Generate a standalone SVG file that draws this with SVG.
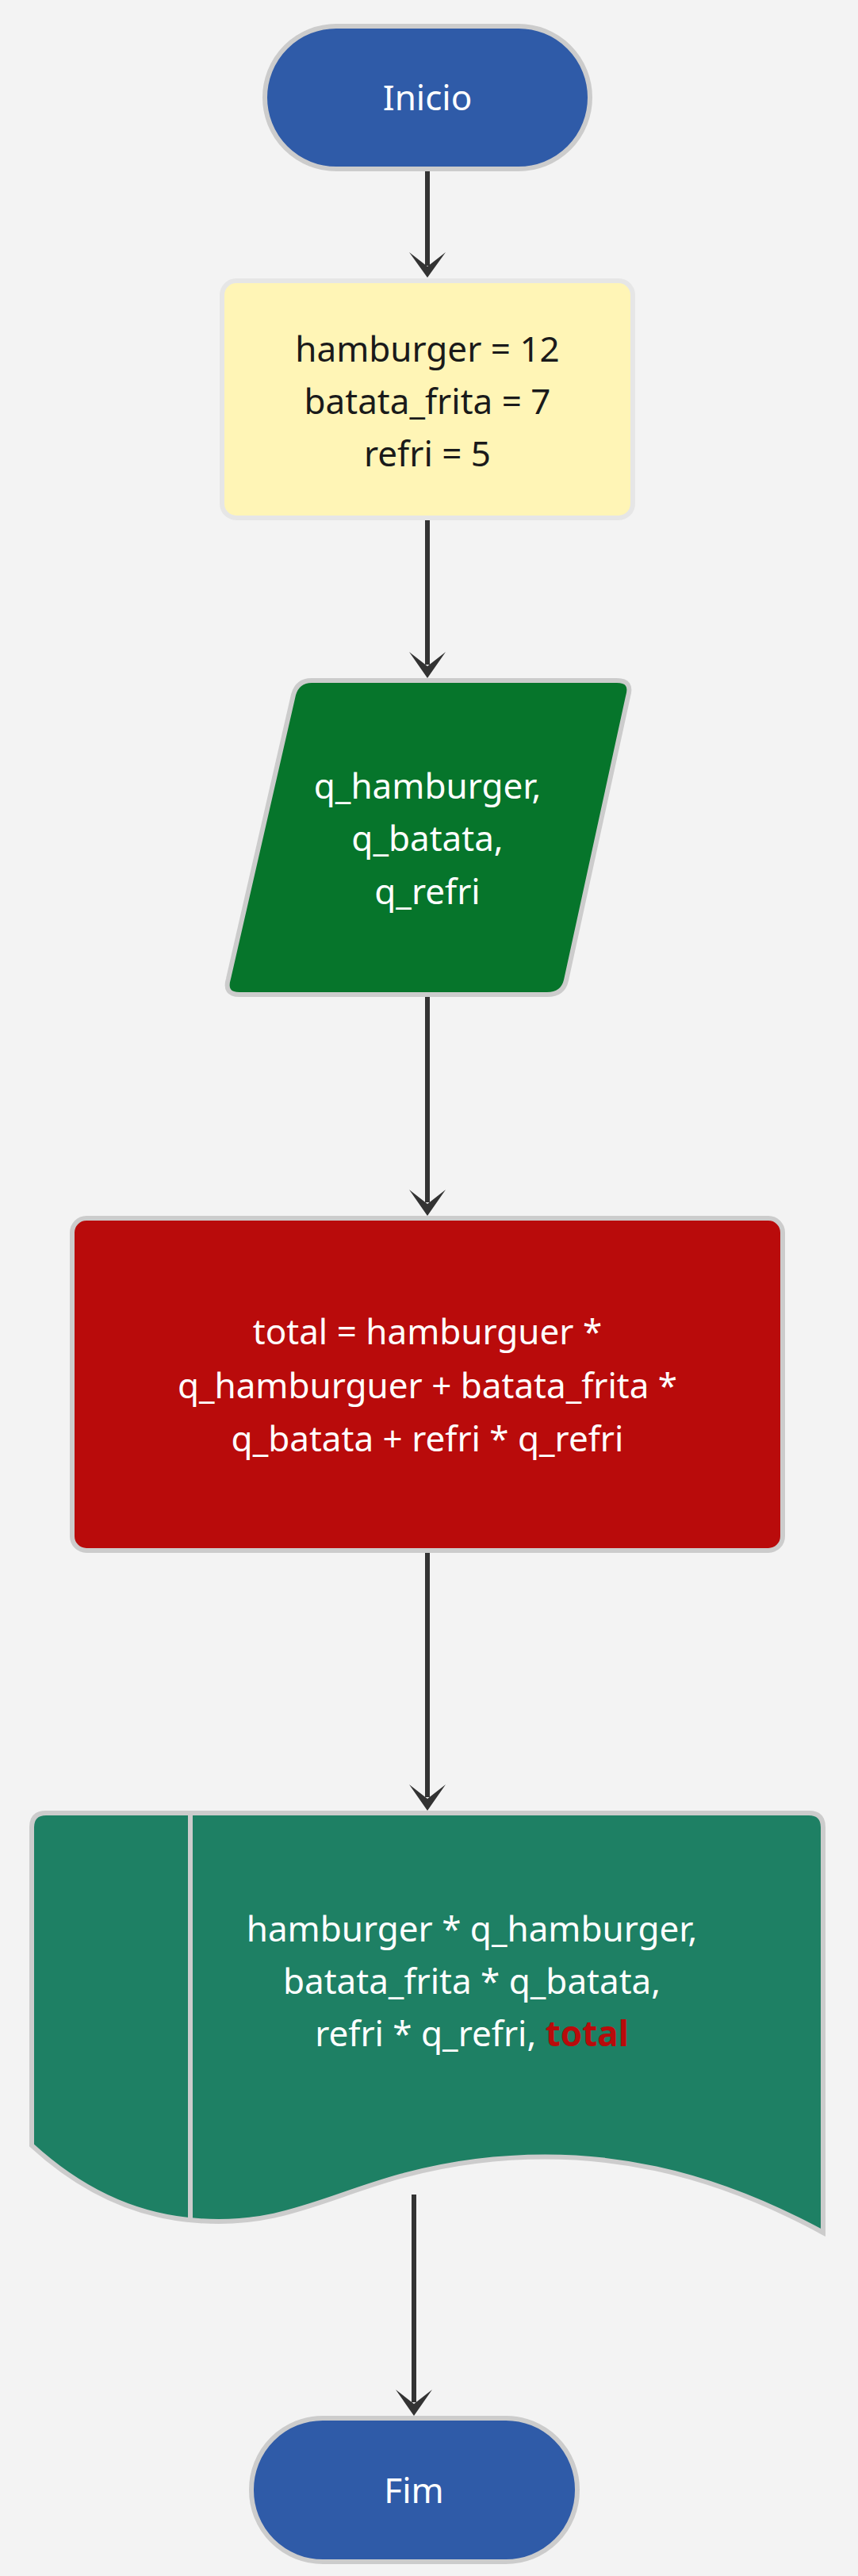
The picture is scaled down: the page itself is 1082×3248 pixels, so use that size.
<svg xmlns="http://www.w3.org/2000/svg" width="1082" height="3248" viewBox="0 0 1082 3248">
<defs>
<marker id="ah" viewBox="0 0 10 10" refX="5" refY="8" markerWidth="10" markerHeight="10" markerUnits="userSpaceOnUse" orient="auto" overflow="visible">
<path d="M-20,-12 L5,8 L30,-12 L5,30 Z" fill="#333"/>
</marker>
<style>
.n{stroke:#cccccc;stroke-width:6}
.t{font-family:"Noto Sans","Open Sans",sans-serif;font-size:44px;text-anchor:middle;fill:#fff}
.c{stroke:#333;stroke-width:6;fill:none}
</style>
</defs>
<rect width="1082" height="3248" fill="#f3f3f3"/>
<g id="connectors">
<line class="c" x1="539" y1="213" x2="539" y2="335"/>
<path d="M516,318 L539,350 L562,318 L539,336 Z" fill="#333"/>
<line class="c" x1="539" y1="653" x2="539" y2="838"/>
<path d="M516,822 L539,855 L562,822 L539,840 Z" fill="#333"/>
<line class="c" x1="539" y1="1254" x2="539" y2="1516"/>
<path d="M516,1500 L539,1533 L562,1500 L539,1518 Z" fill="#333"/>
<line class="c" x1="539" y1="1955" x2="539" y2="2266"/>
<path d="M516,2250 L539,2283 L562,2250 L539,2268 Z" fill="#333"/>
<line class="c" x1="522" y1="2767" x2="522" y2="3029"/>
<path d="M499,3013 L522,3046 L545,3013 L522,3031 Z" fill="#333"/>
</g>
<g id="inicio">
<rect class="n" x="334" y="33" width="410" height="180" rx="90" fill="#2f5ba8"/>
<text class="t" x="539" y="139">Inicio</text>
</g>
<g id="vars">
<rect x="280" y="354" width="518" height="299" rx="18" fill="#fff5b6" stroke="#e6e6e6" stroke-width="6"/>
<text class="t" x="539" y="456" style="fill:#1a1a1a">hamburger = 12</text>
<text class="t" x="539" y="522" style="fill:#1a1a1a">batata_frita = 7</text>
<text class="t" x="539" y="588" style="fill:#1a1a1a">refri = 5</text>
</g>
<g id="input">
<path class="n" d="M393,858 L778,858 Q798,858 792,878 L714,1236 Q710,1254 690,1254 L302,1254 Q282,1254 288,1234 L370,876 Q375,858 393,858 Z" fill="#06752b"/>
<text class="t" x="539" y="1007">q_hamburger,</text>
<text class="t" x="539" y="1073">q_batata,</text>
<text class="t" x="539" y="1140">q_refri</text>
</g>
<g id="process">
<rect class="n" x="91" y="1536" width="896" height="419" rx="18" fill="#b90b0b"/>
<text class="t" x="539" y="1695">total = hamburguer *</text>
<text class="t" x="539" y="1763">q_hamburguer + batata_frita *</text>
<text class="t" x="539" y="1830">q_batata + refri * q_refri</text>
</g>
<g id="output">
<path class="n" d="M58,2286 L1020,2286 Q1038,2286 1038,2304 L1038,2815 C900,2740 760,2705 600,2725 C440,2745 380,2810 250,2800 C170,2795 100,2760 40,2705 L40,2304 Q40,2286 58,2286 Z" fill="#1e8064"/>
<line x1="240" y1="2288" x2="240" y2="2797" stroke="#cccccc" stroke-width="6"/>
<text class="t" x="595" y="2448">hamburger * q_hamburger,</text>
<text class="t" x="595" y="2514">batata_frita * q_batata,</text>
<text class="t" x="595" y="2580">refri * q_refri, <tspan style="fill:#b90b0b;font-weight:bold">total</tspan></text>
</g>
<g id="fim">
<rect class="n" x="317" y="3049" width="411" height="181" rx="90" fill="#2f5ba8"/>
<text class="t" x="522" y="3156">Fim</text>
</g>
</svg>
